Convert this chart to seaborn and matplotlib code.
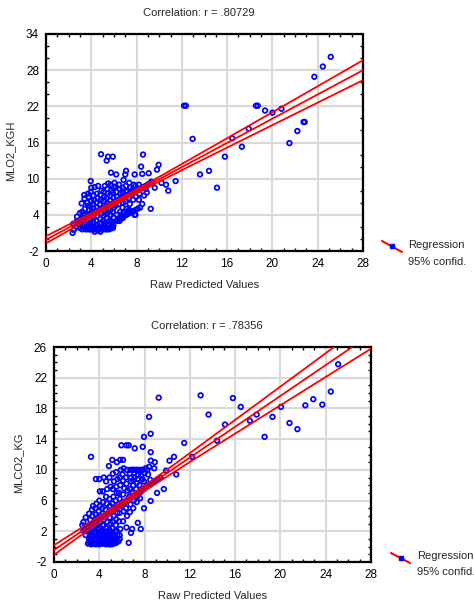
import numpy as np
import pandas as pd
import matplotlib
matplotlib.use("Agg")
import matplotlib.pyplot as plt
import seaborn as sns
from matplotlib.lines import Line2D
from matplotlib.ticker import MultipleLocator

# ---------------- data ----------------
top_title = "Correlation: r = .80729"
bot_title = "Correlation: r = .78356"
x_label = "Raw Predicted Values"
top_ylabel = "MLO2_KGH"
bot_ylabel = "MLCO2_KG"
legend_labels = ["Regression", "95% confid."]

top_xticks = [0, 4, 8, 12, 16, 20, 24, 28]
top_yticks = [-2, 4, 10, 16, 22, 28, 34]
bot_xticks = [0, 4, 8, 12, 16, 20, 24, 28]
bot_yticks = [-2, 2, 6, 10, 14, 18, 22, 26]

# top panel: (raw predicted, observed MLO2_KGH)
top_points = [
    (2.35, 1.0), (2.45, 1.5), (2.4, 2.5),
    (2.7, 2.0), (2.75, 3.0), (2.74, 3.7),
    (3.0, 1.8), (2.95, 2.5), (3.05, 3.0), (3.0, 4.3),
    (3.2, 1.6), (3.25, 2.2), (3.15, 3.0), (3.25, 3.5), (3.2, 4.5), (3.15, 5.9),
    (3.45, 1.8), (3.4, 2.5), (3.5, 3.3), (3.35, 4.0), (3.45, 5.0), (3.4, 6.7), (3.38, 7.3),
    (3.7, 1.6), (3.75, 2.2), (3.65, 3.0), (3.7, 4.0), (3.8, 4.8), (3.7, 5.5), (3.65, 6.0), (3.75, 7.0), (3.7, 7.5),
    (3.95, 1.6), (4.0, 2.0), (3.9, 2.5), (4.0, 3.2), (3.95, 3.8), (4.05, 4.6), (3.9, 5.4), (4.0, 6.3), (3.95, 7.8), (4.0, 8.5), (3.95, 9.6),
    (4.2, 1.6), (4.25, 2.0), (4.15, 2.8), (4.2, 3.5), (4.3, 4.2), (4.2, 5.0), (4.15, 5.8), (4.25, 6.5), (4.2, 7.2), (4.3, 8.6),
    (4.5, 1.6), (4.55, 2.4), (4.45, 3.0), (4.5, 3.8), (4.6, 4.5), (4.5, 5.2), (4.45, 6.0), (4.55, 6.8), (4.5, 7.5), (4.6, 8.8),
    (4.8, 1.2), (4.85, 1.8), (4.75, 2.6), (4.8, 3.3), (4.9, 4.2), (4.8, 5.0), (4.75, 5.7), (4.85, 6.5), (4.8, 7.3), (4.9, 8.0), (4.86, 14.05),
    (5.1, 1.6), (5.15, 2.2), (5.05, 3.0), (5.1, 3.8), (5.2, 4.6), (5.1, 5.5), (5.05, 6.3), (5.15, 7.0), (5.1, 7.8), (5.2, 8.8),
    (5.4, 1.6), (5.45, 2.5), (5.35, 3.5), (5.4, 4.2), (5.5, 5.0), (5.4, 5.8), (5.35, 6.8), (5.45, 7.5), (5.4, 8.3), (5.5, 9.2), (5.36, 13.0), (5.48, 13.65),
    (5.7, 1.8), (5.75, 2.8), (5.65, 4.0), (5.7, 4.8), (5.8, 5.6), (5.7, 6.4), (5.65, 7.2), (5.75, 8.0), (5.7, 9.0), (5.74, 11.0),
    (5.95, 2.2), (6.0, 3.5), (5.9, 4.5), (6.0, 5.2), (6.05, 6.0), (5.95, 6.8), (5.9, 7.7), (6.0, 8.5), (6.05, 9.3), (5.9, 13.65),
    (6.2, 3.0), (6.25, 4.0), (6.15, 5.5), (6.2, 6.3), (6.3, 7.0), (6.2, 7.8), (6.15, 8.7), (6.2, 10.7),
    (6.5, 3.0), (6.55, 4.5), (6.45, 5.8), (6.5, 6.6), (6.6, 7.5), (6.5, 8.3), (6.45, 9.0),
    (6.8, 3.5), (6.85, 4.3), (6.75, 5.2), (6.8, 6.0), (6.9, 6.9), (6.8, 7.6), (6.75, 8.5), (6.85, 9.8),
    (7.05, 4.0), (7.1, 5.0), (7.0, 6.2), (7.05, 7.0), (7.15, 7.8), (7.05, 8.8), (7.0, 10.7), (7.07, 11.3),
    (7.35, 4.8), (7.4, 5.8), (7.3, 6.8), (7.35, 7.5), (7.45, 8.5), (7.35, 9.3),
    (7.65, 4.5), (7.7, 6.5), (7.6, 7.4), (7.65, 8.2), (7.75, 9.0),
    (7.9, 4.0), (7.95, 7.0), (7.85, 8.0), (7.9, 8.8), (7.83, 10.7),
    (8.2, 6.5), (8.25, 7.5), (8.15, 8.3), (8.2, 9.0),
    (4.3, 1.2), (4.6, 1.4), (4.9, 1.6), (5.2, 2.0), (5.5, 2.2), (5.8, 2.5), (6.0, 2.8),
    (6.3, 3.0), (6.5, 3.3), (6.7, 3.6), (6.9, 3.8), (7.1, 4.0), (7.3, 4.2), (7.5, 4.4),
    (7.7, 4.6), (7.9, 4.8), (8.1, 5.0), (8.3, 5.2), (6.6, 4.0), (7.2, 4.6),
    (3.5, 1.6), (3.6, 2.0), (3.8, 1.8), (3.9, 1.6), (4.1, 1.8), (4.3, 1.6), (4.4, 2.2),
    (4.6, 1.8), (4.7, 1.6), (5.0, 1.8), (5.3, 1.6), (5.6, 1.6), (5.9, 1.8), (5.2, 2.6), (5.6, 3.0),
    # points hidden under the regression band
    (2.6, 2.6), (2.8, 2.8), (3.0, 3.0), (3.2, 3.2), (3.4, 3.4), (3.6, 3.6), (3.8, 3.8),
    (4.0, 4.0), (4.2, 4.2), (4.4, 4.4), (4.6, 4.6), (4.8, 4.8), (5.0, 5.0), (5.2, 5.2),
    (5.4, 5.4), (5.6, 5.6), (5.8, 5.8), (6.0, 6.0), (6.2, 6.2), (6.4, 6.4), (6.6, 6.6),
    (6.8, 6.8), (7.0, 7.0), (7.2, 7.2), (7.4, 7.4), (7.6, 7.6), (7.8, 7.8), (8.0, 8.0),
    (8.2, 8.2), (8.4, 8.4), (8.6, 8.6), (8.8, 8.8), (9.0, 9.0), (9.2, 9.2), (9.4, 9.4),
    # sparse part
    (8.5, 5.8), (8.65, 7.2), (8.5, 10.8), (8.4, 12.0), (8.57, 14.0), (8.8, 8.3), (8.9, 7.7),
    (9.0, 9.0), (9.3, 9.5), (9.07, 10.9), (9.25, 5.0), (9.6, 8.5), (9.8, 11.5), (9.95, 12.3),
    (10.2, 9.3), (10.6, 9.0), (10.8, 8.0), (11.45, 9.6), (12.2, 22.1), (12.35, 22.1),
    (12.95, 16.6), (13.6, 10.7), (14.4, 11.3), (15.1, 8.5), (15.8, 13.65), (16.45, 16.7),
    (17.3, 15.3), (17.9, 18.3), (18.55, 22.1), (18.7, 22.1), (19.35, 21.3), (20.0, 20.95),
    (20.8, 21.6), (21.5, 15.9), (22.2, 17.9), (22.75, 19.4), (22.85, 19.4), (23.7, 26.9),
    (24.45, 28.6), (25.15, 30.2), (7.83, 4.0),
]

# bottom panel: (raw predicted, observed MLCO2_KG)
bot_points = [
    (2.5, 2.8), (2.6, 3.2),
    (2.8, 1.5), (2.85, 2.0), (2.75, 2.6), (2.8, 3.8),
    (3.1, 0.6), (3.15, 1.3), (3.05, 2.0), (3.1, 2.8), (3.2, 3.5), (3.1, 4.3),
    (3.4, 0.5), (3.45, 1.0), (3.35, 1.8), (3.4, 2.5), (3.5, 3.2), (3.4, 4.0), (3.35, 4.8), (3.45, 5.3),
    (3.7, 0.5), (3.75, 1.2), (3.65, 2.0), (3.7, 2.8), (3.8, 3.5), (3.7, 4.2), (3.65, 5.0), (3.75, 5.6), (3.7, 8.8),
    (4.0, 0.5), (4.05, 1.0), (3.95, 1.7), (4.0, 2.4), (4.1, 3.2), (4.0, 4.0), (3.95, 4.6), (4.05, 5.3), (4.0, 6.0), (4.05, 7.2), (4.0, 8.8),
    (4.3, 0.5), (4.35, 1.3), (4.25, 2.0), (4.3, 2.8), (4.4, 3.5), (4.3, 4.3), (4.25, 5.0), (4.35, 5.8), (4.3, 7.2), (4.4, 9.0),
    (4.6, 0.5), (4.65, 1.0), (4.55, 1.6), (4.6, 2.4), (4.7, 3.2), (4.6, 4.0), (4.55, 4.8), (4.65, 5.6), (4.6, 6.5), (4.7, 7.5), (4.6, 8.5),
    (4.9, 0.3), (4.95, 0.8), (4.85, 1.5), (4.9, 2.2), (5.0, 3.0), (4.9, 3.8), (4.85, 4.5), (4.95, 5.3), (4.9, 6.2), (5.0, 7.8), (4.9, 9.0), (4.85, 10.5),
    (5.2, 0.8), (5.25, 1.6), (5.15, 2.4), (5.2, 3.2), (5.3, 4.0), (5.2, 4.8), (5.15, 5.6), (5.25, 6.5), (5.2, 7.5), (5.3, 8.5), (5.2, 9.5), (5.15, 11.3),
    (5.5, 1.0), (5.55, 2.0), (5.45, 2.8), (5.5, 3.6), (5.6, 4.4), (5.5, 5.2), (5.45, 6.0), (5.55, 7.0), (5.5, 7.8), (5.6, 8.8), (5.5, 9.7), (5.55, 11.0),
    (5.8, 1.5), (5.85, 2.3), (5.75, 3.3), (5.8, 4.4), (5.9, 5.3), (5.8, 6.2), (5.75, 7.0), (5.85, 8.0), (5.8, 9.0), (5.9, 10.0), (5.85, 11.3),
    (6.1, 3.3), (6.15, 4.6), (6.05, 5.8), (6.1, 6.8), (6.2, 7.6), (6.1, 8.6), (6.05, 9.4), (6.15, 10.2), (6.1, 11.3),
    (6.4, 2.5), (6.45, 4.0), (6.35, 5.0), (6.4, 6.0), (6.5, 7.3), (6.4, 8.2), (6.35, 9.0), (6.45, 10.0),
    (6.7, 4.5), (6.75, 5.5), (6.65, 6.5), (6.7, 7.5), (6.8, 8.5), (6.7, 9.5), (6.75, 10.0),
    (7.0, 5.0), (7.05, 6.0), (6.95, 7.0), (7.0, 8.0), (7.1, 9.0), (7.0, 10.0),
    (7.3, 5.8), (7.35, 6.5), (7.25, 7.5), (7.3, 8.3), (7.4, 9.3), (7.3, 10.0),
    (7.6, 6.3), (7.65, 7.1), (7.55, 8.0), (7.6, 9.8), (7.7, 10.0),
    (7.9, 7.5), (7.95, 8.5), (7.85, 10.0),
    (8.2, 8.0), (8.25, 10.0),
    (8.5, 8.7), (8.55, 11.2),
    (3.2, 0.5), (3.3, 0.8), (3.3, 1.5), (3.4, 0.4), (3.5, 0.7), (3.5, 1.3), (3.6, 0.4),
    (3.6, 1.8), (3.7, 0.9), (3.8, 0.4), (3.8, 1.5), (3.9, 0.6), (3.9, 2.2), (4.0, 0.3),
    (4.0, 1.3), (4.1, 0.6), (4.1, 2.0), (4.2, 0.4), (4.2, 1.0), (4.3, 1.7), (4.4, 0.4),
    (4.4, 1.1), (4.5, 0.6), (4.5, 2.0), (4.6, 0.3), (4.7, 1.3), (4.7, 0.6), (4.8, 0.4),
    (4.8, 1.9), (4.9, 1.1), (5.0, 0.5), (5.0, 1.6), (5.1, 0.3), (5.1, 1.1), (5.2, 0.5),
    (5.3, 1.3), (5.3, 0.4), (5.4, 0.9), (5.4, 2.0), (5.5, 0.5), (5.6, 1.5), (5.7, 0.7),
    (5.8, 1.0), (3.6, 2.6), (4.4, 2.8),
    (3.0, 0.4), (3.1, 1.0), (3.2, 1.2), (3.3, 0.3), (3.4, 1.4), (3.5, 0.5), (3.6, 1.1),
    (3.7, 0.3), (3.8, 1.0), (3.9, 1.4), (4.0, 0.7), (4.1, 1.2), (4.2, 0.8),
    (6.8, 9.0), (6.9, 10.0), (7.0, 8.6), (7.1, 9.6), (7.2, 10.0), (7.4, 8.8), (7.5, 10.0),
    (7.7, 9.2), (7.8, 8.8), (8.0, 9.6), (8.1, 10.2), (8.3, 9.4), (8.4, 10.4),
    # points hidden under the regression band
    (2.6, 2.1), (2.75, 2.3), (2.9, 2.45), (3.05, 2.6), (3.2, 2.75), (3.35, 2.9), (3.5, 3.05),
    (3.65, 3.2), (3.8, 3.35), (3.95, 3.5), (4.1, 3.65), (4.25, 3.8), (4.4, 3.95), (4.55, 4.1),
    (4.7, 4.25), (4.85, 4.4), (5.0, 4.55), (5.15, 4.7), (5.3, 4.85), (5.45, 5.0), (5.6, 5.15),
    (5.75, 5.3), (5.9, 5.45), (6.05, 5.6), (6.2, 5.75), (6.35, 5.9), (6.5, 6.05), (6.65, 6.2),
    (6.8, 6.4), (6.95, 6.55), (7.1, 6.7), (7.25, 6.85), (7.4, 7.0), (7.55, 7.15), (7.7, 7.3),
    (7.85, 7.45), (8.0, 7.6), (8.2, 7.8), (8.4, 8.0), (8.6, 8.2), (8.8, 8.4), (9.0, 8.6),
    (9.2, 8.8), (9.4, 9.0),
    # sparse part
    (3.27, 11.7), (5.95, 13.2), (6.4, 13.2), (6.6, 13.2), (7.13, 12.8), (7.84, 13.0),
    (7.95, 14.3), (7.95, 5.0), (7.66, 2.3), (7.4, 3.1), (6.9, 2.3), (6.8, 1.8), (6.6, 0.5),
    (8.4, 16.9), (8.54, 14.7), (8.54, 12.3), (8.54, 5.95), (8.85, 10.2), (8.9, 11.0),
    (9.1, 7.0), (9.25, 19.4), (9.7, 7.5), (9.9, 9.9), (10.2, 11.2), (10.6, 11.7),
    (10.8, 9.4), (11.5, 13.5), (12.2, 11.7), (12.95, 19.7), (13.65, 17.2), (14.4, 13.8),
    (15.1, 15.9), (15.8, 19.35), (16.5, 18.2), (17.3, 16.4), (17.9, 17.2), (18.6, 14.3),
    (19.3, 16.9), (20.05, 18.2), (20.8, 16.1), (21.5, 15.3), (22.2, 18.4), (22.9, 19.2),
    (23.7, 18.5), (24.45, 20.2), (25.1, 23.75),
]

# ---------------- helpers ----------------
def regression_with_ci(x, y, grid, t=1.97):
    n = len(x)
    slope, intercept = np.polyfit(x, y, 1)
    fit = intercept + slope * grid
    resid = y - (intercept + slope * x)
    s = np.sqrt(np.sum(resid ** 2) / (n - 2))
    sxx = np.sum((x - x.mean()) ** 2)
    se = s * np.sqrt(1.0 / n + (grid - x.mean()) ** 2 / sxx)
    return fit, fit - t * se, fit + t * se


sns.set_style("white")
plt.rcParams["font.family"] = ["Liberation Sans", "DejaVu Sans"]
plt.rcParams["font.size"] = 8

fig = plt.figure(figsize=(4.74, 6.04), dpi=100)
W, H = 474.0, 604.0

panels = [
    dict(points=top_points, rect=(46, 34, 363, 251), title=top_title, ylabel=top_ylabel,
         ylab_x=15, xticks=top_xticks, yticks=top_yticks, yminor=2,
         leg_line=((382, 241), (402, 252)), leg_text=(408, 245, 262)),
    dict(points=bot_points, rect=(54, 347, 371, 562), title=bot_title, ylabel=bot_ylabel,
         ylab_x=23, xticks=bot_xticks, yticks=bot_yticks, yminor=1,
         leg_line=((391, 553), (410, 563)), leg_text=(417, 556, 572)),
]

for p in panels:
    l, t, r, b = p["rect"]
    ax = fig.add_axes([l / W, 1 - b / H, (r - l) / W, (b - t) / H])
    df = pd.DataFrame(p["points"], columns=["pred", "obs"])
    x = df["pred"].to_numpy()
    y = df["obs"].to_numpy()

    xt, yt = p["xticks"], p["yticks"]
    grid = np.linspace(xt[0], xt[-1], 200)
    fit, lo, hi = regression_with_ci(x, y, grid)

    ax.grid(True, color="#d9d9d9", linewidth=1.5, zorder=0)
    ax.set_axisbelow(True)

    sns.scatterplot(x=x, y=y, ax=ax, marker="o", s=11, facecolors="none",
                    edgecolor="#0000ff", linewidth=1.25, zorder=3, legend=False)
    for curve in (hi, fit, lo):
        sns.lineplot(x=grid, y=curve, ax=ax, color="#ff0000", linewidth=1.3,
                     sort=False, estimator=None, zorder=4, legend=False)

    ax.set_xlim(xt[0], xt[-1])
    ax.set_ylim(yt[0], yt[-1])
    ax.set_xticks(xt)
    ax.set_yticks(yt)
    ax.set_xticklabels([str(v) for v in xt])
    ax.set_yticklabels([str(v) for v in yt])
    ax.yaxis.set_minor_locator(MultipleLocator(p["yminor"]))
    ax.xaxis.set_minor_locator(MultipleLocator(1))
    ax.tick_params(which="major", length=0, labelsize=8.5, pad=5, colors="black")
    ax.tick_params(which="minor", direction="in", length=2.5, width=1,
                   left=True, right=True, top=True, bottom=True, color="black")
    for sp in ax.spines.values():
        sp.set_visible(True)
        sp.set_color("black")
        sp.set_linewidth(1.6)
        sp.set_linestyle((0, (1.2, 0.8)))

    ax.set_xlabel(x_label, fontsize=8, labelpad=7)
    ax.set_ylabel(p["ylabel"], fontsize=8)
    ax.yaxis.set_label_coords(-((l - p["ylab_x"]) / (r - l)), 0.46)
    ax.text(0.483, 1 + 21.0 / (b - t), p["title"], transform=ax.transAxes,
            ha="center", va="center", fontsize=8)

    # custom legend
    (x0, y0), (x1, y1) = p["leg_line"]
    fig.add_artist(Line2D([x0 / W, x1 / W], [1 - y0 / H, 1 - y1 / H],
                          color="#ff0000", linewidth=1.5, transform=fig.transFigure))
    fig.add_artist(Line2D([(x0 + x1) / 2 / W], [1 - (y0 + y1) / 2 / H], marker="s",
                          markersize=3.5, color="#0000ff", linestyle="none",
                          transform=fig.transFigure))
    tx, ty1, ty2 = p["leg_text"]
    fig.text(tx / W, 1 - ty1 / H, legend_labels[0], ha="left", va="center", fontsize=8)
    fig.text(tx / W, 1 - ty2 / H, legend_labels[1], ha="left", va="center", fontsize=8)

fig.savefig("out.png", dpi=100, facecolor="white")
